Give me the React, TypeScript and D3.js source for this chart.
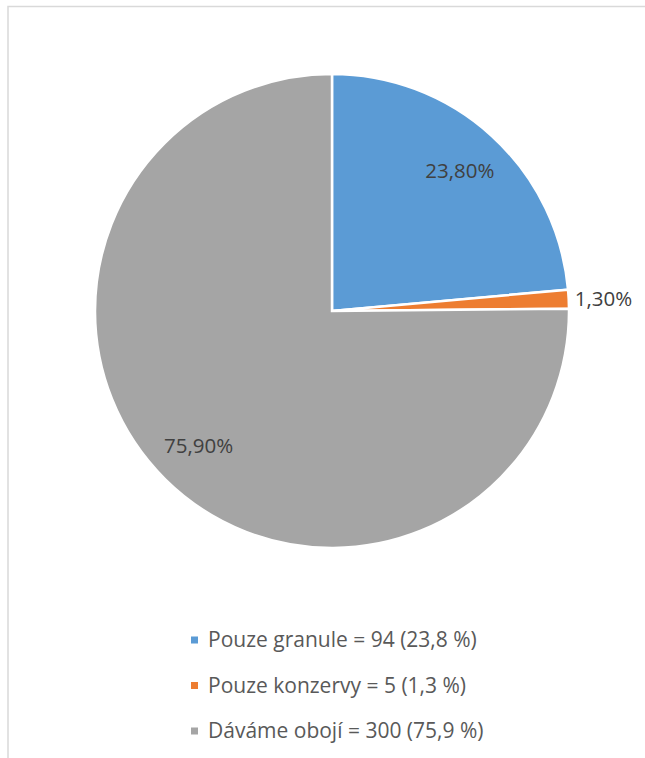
import React from "react";
import * as d3 from "d3";

const categories = ["Pouze granule", "Pouze konzervy", "Dáváme obojí"];
const percents = [23.8, 1.3, 75.9];
const dataLabels = ["23,80%", "1,30%", "75,90%"];
const legendLabels = [
  "Pouze granule = 94 (23,8 %)",
  "Pouze konzervy = 5 (1,3 %)",
  "Dáváme obojí = 300 (75,9 %)",
];
const colors = ["#5B9BD5", "#ED7D31", "#A5A5A5"];

const W = 645;
const H = 758;
const cx = 332;
const cy = 311;
const R = 237;
const FONT = "'Open Sans', Lato, sans-serif";

export default function App() {
  const pie = d3
    .pie<number>()
    .sort(null)
    .value((d) => d)
    .startAngle(0)
    .endAngle(2 * Math.PI);
  const arcs = pie(percents);
  const arc = d3.arc<d3.PieArcDatum<number>>().innerRadius(0).outerRadius(R);
  const total = d3.sum(percents);

  const legendY = d3
    .scalePoint<string>()
    .domain(categories)
    .range([640, 731]);

  return (
    <svg
      width={W}
      height={H}
      style={{ position: "absolute", left: 0, top: 0, background: "#fff" }}
    >
      <rect x={0} y={0} width={W} height={H} fill="#fff" />
      <rect
        x={8}
        y={6.5}
        width={W + 20}
        height={H + 20}
        fill="none"
        stroke="#d9d9d9"
        strokeWidth={1.5}
      />
      <g transform={`translate(${cx},${cy})`}>
        {arcs.map((a, i) => (
          <path
            key={categories[i]}
            d={arc(a) || ""}
            fill={colors[i]}
            stroke="#fff"
            strokeWidth={2.5}
            strokeLinejoin="miter"
          />
        ))}
        {arcs.map((a, i) => {
          const mid = (a.startAngle + a.endAngle) / 2;
          const small = a.value / total < 0.05;
          if (small) {
            const rr = R + 6;
            const x = Math.sin(mid) * rr;
            const y = -Math.cos(mid) * rr;
            return (
              <text
                key={"l" + i}
                x={x}
                y={y}
                dy="0.35em"
                textAnchor="start"
                fontFamily={FONT}
                fontSize={20.5}
                fill="#404040"
              >
                {dataLabels[i]}
              </text>
            );
          }
          const lr = R * 0.8;
          const [x, y] = d3
            .arc<d3.PieArcDatum<number>>()
            .innerRadius(lr)
            .outerRadius(lr)
            .centroid(a);
          return (
            <text
              key={"l" + i}
              x={x}
              y={y}
              dy="0.35em"
              textAnchor="middle"
              fontFamily={FONT}
              fontSize={20.5}
              fill="#404040"
            >
              {dataLabels[i]}
            </text>
          );
        })}
      </g>
      <g>
        {categories.map((c, i) => {
          const y = legendY(c) as number;
          return (
            <g key={c}>
              <rect x={191} y={y - 3.5} width={7} height={7} fill={colors[i]} />
              <text
                x={208}
                y={y}
                dy="0.35em"
                fontFamily={FONT}
                fontSize={21}
                fill="#595959"
              >
                {legendLabels[i]}
              </text>
            </g>
          );
        })}
      </g>
    </svg>
  );
}
